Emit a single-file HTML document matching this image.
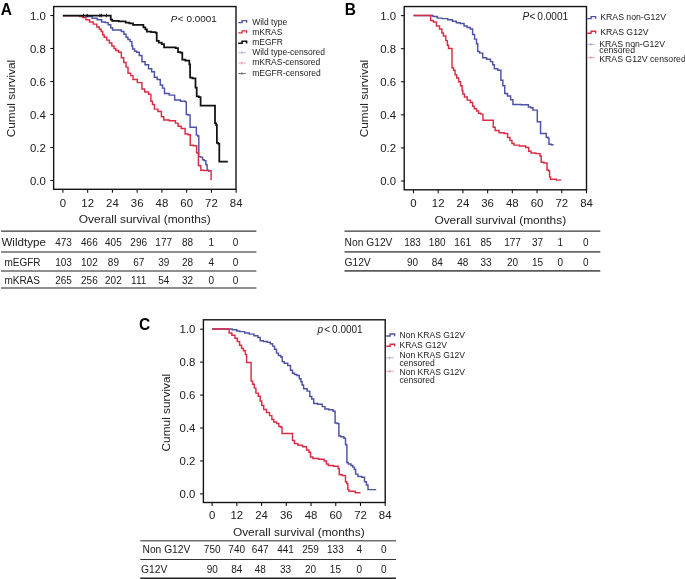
<!DOCTYPE html>
<html><head><meta charset="utf-8"><style>
html,body{margin:0;padding:0;background:#fff;width:685px;height:579px;overflow:hidden}
svg{display:block;filter:blur(0.4px)}
text{font-family:"Liberation Sans", sans-serif}
</style></head><body>
<svg width="685" height="579" viewBox="0 0 685 579">
<rect width="685" height="579" fill="#fff"/>
<rect x="53.65" y="6.55" width="182.35" height="182.75" fill="none" stroke="#141414" stroke-width="1.40"/>
<line x1="50.35" y1="15.50" x2="53.65" y2="15.50" stroke="#141414" stroke-width="1.1"/>
<text x="45.8" y="19.6" font-size="11.40" text-anchor="end" font-weight="normal" font-style="normal" fill="#202020" >1.0</text>
<line x1="50.35" y1="48.50" x2="53.65" y2="48.50" stroke="#141414" stroke-width="1.1"/>
<text x="45.8" y="52.6" font-size="11.40" text-anchor="end" font-weight="normal" font-style="normal" fill="#202020" >0.8</text>
<line x1="50.35" y1="81.50" x2="53.65" y2="81.50" stroke="#141414" stroke-width="1.1"/>
<text x="45.8" y="85.6" font-size="11.40" text-anchor="end" font-weight="normal" font-style="normal" fill="#202020" >0.6</text>
<line x1="50.35" y1="114.50" x2="53.65" y2="114.50" stroke="#141414" stroke-width="1.1"/>
<text x="45.8" y="118.6" font-size="11.40" text-anchor="end" font-weight="normal" font-style="normal" fill="#202020" >0.4</text>
<line x1="50.35" y1="147.50" x2="53.65" y2="147.50" stroke="#141414" stroke-width="1.1"/>
<text x="45.8" y="151.6" font-size="11.40" text-anchor="end" font-weight="normal" font-style="normal" fill="#202020" >0.2</text>
<line x1="50.35" y1="180.50" x2="53.65" y2="180.50" stroke="#141414" stroke-width="1.1"/>
<text x="45.8" y="184.6" font-size="11.40" text-anchor="end" font-weight="normal" font-style="normal" fill="#202020" >0.0</text>
<line x1="62.90" y1="189.30" x2="62.90" y2="192.80" stroke="#141414" stroke-width="1.1"/>
<text x="62.9" y="206.7" font-size="11.40" text-anchor="middle" font-weight="normal" font-style="normal" fill="#202020" >0</text>
<line x1="87.65" y1="189.30" x2="87.65" y2="192.80" stroke="#141414" stroke-width="1.1"/>
<text x="87.7" y="206.7" font-size="11.40" text-anchor="middle" font-weight="normal" font-style="normal" fill="#202020" >12</text>
<line x1="112.40" y1="189.30" x2="112.40" y2="192.80" stroke="#141414" stroke-width="1.1"/>
<text x="112.4" y="206.7" font-size="11.40" text-anchor="middle" font-weight="normal" font-style="normal" fill="#202020" >24</text>
<line x1="137.15" y1="189.30" x2="137.15" y2="192.80" stroke="#141414" stroke-width="1.1"/>
<text x="137.2" y="206.7" font-size="11.40" text-anchor="middle" font-weight="normal" font-style="normal" fill="#202020" >36</text>
<line x1="161.90" y1="189.30" x2="161.90" y2="192.80" stroke="#141414" stroke-width="1.1"/>
<text x="161.9" y="206.7" font-size="11.40" text-anchor="middle" font-weight="normal" font-style="normal" fill="#202020" >48</text>
<line x1="186.65" y1="189.30" x2="186.65" y2="192.80" stroke="#141414" stroke-width="1.1"/>
<text x="186.7" y="206.7" font-size="11.40" text-anchor="middle" font-weight="normal" font-style="normal" fill="#202020" >60</text>
<line x1="211.40" y1="189.30" x2="211.40" y2="192.80" stroke="#141414" stroke-width="1.1"/>
<text x="211.4" y="206.7" font-size="11.40" text-anchor="middle" font-weight="normal" font-style="normal" fill="#202020" >72</text>
<line x1="236.15" y1="189.30" x2="236.15" y2="192.80" stroke="#141414" stroke-width="1.1"/>
<text x="236.2" y="206.7" font-size="11.40" text-anchor="middle" font-weight="normal" font-style="normal" fill="#202020" >84</text>
<text x="78.8" y="223.3" font-size="11.40" text-anchor="start" font-weight="normal" font-style="normal" fill="#202020" textLength="132.0" lengthAdjust="spacingAndGlyphs">Overall survival (months)</text>
<text transform="translate(15.2,98.5) rotate(-90)" x="0" y="0" font-size="11.40" text-anchor="middle" fill="#202020" textLength="77.5" lengthAdjust="spacingAndGlyphs">Cumul survival</text>
<text transform="translate(0.80,14.50) scale(1.000,1.080)" x="0" y="0" font-size="15.50" font-weight="bold" fill="#000">A</text>
<text y="21.5" font-size="9.90" fill="#202020"><tspan x="170.7" font-style="italic">P</tspan><tspan x="177.8">&lt;</tspan><tspan x="186.6">0.0001</tspan></text>
<path d="M62.9,15.6 H83.4 H86.30 V16.5 H89.2 H92.10 V18.2 H95.0 H97.20 V19.7 H99.4 H101.60 V21.9 H103.8 H105.25 V22.6 H106.7 H108.15 V24.8 H109.6 H110.70 V27.7 H111.8 H112.55 V29.9 H113.3 H119.9 H121.35 V31.4 H122.8 H123.90 V34.3 H125.0 H126.10 V37.2 H127.2 H127.90 V39.4 H128.6 H130.05 V41.6 H131.5 H131.90 V46.0 H132.3 H132.65 V48.9 H133.0 H134.60 V51.2 H136.2 H136.75 V52.3 H137.3 H139.25 V55.4 H141.2 H141.95 V61.7 H142.7 H145.05 V64.8 H147.4 H148.55 V68.7 H149.7 H151.65 V71.8 H153.6 H154.40 V77.2 H155.2 H157.15 V79.5 H159.1 H160.25 V85.0 H161.4 H162.55 V88.1 H163.7 H164.50 V93.5 H165.3 H169.20 V95.1 H173.1 H174.65 V100.0 H176.2 H180.45 V101.3 H184.7 H185.50 V102.1 H186.3 V114.5 H188.00 V114.9 H189.7 H190.10 V127.3 H190.5 H196.0 H196.35 V135.1 H196.7 H197.75 V135.9 H198.8 V156.6 H200.55 V157.1 H202.3 H202.55 V159.7 H202.8 H204.10 V160.6 H205.4 H205.85 V164.5 H206.3 H206.70 V165.0 H207.1 V170.2 H208.65 V171.1 H210.2" fill="none" stroke="#4c52a6" stroke-width="1.45" stroke-linejoin="miter" stroke-linecap="butt"/>
<path d="M62.9,15.6 H78.2 H79.70 V16.4 H81.2 H82.70 V17.6 H84.2 H85.95 V19.7 H87.7 H89.55 V21.9 H91.4 H93.20 V24.1 H95.0 H96.85 V27.0 H98.7 H99.40 V29.2 H100.1 H101.20 V31.4 H102.3 H102.70 V35.0 H103.1 H104.20 V37.2 H105.3 H106.75 V40.1 H108.2 H109.30 V43.0 H110.4 H111.85 V46.0 H113.3 H114.00 V48.5 H114.7 H115.85 V50.5 H117.0 H118.60 V52.3 H120.2 H121.35 V57.8 H122.5 H123.70 V62.4 H124.9 H126.05 V67.1 H127.2 H128.00 V73.3 H128.8 H130.70 V75.6 H132.6 H133.00 V79.5 H133.4 H137.30 V82.6 H141.2 H141.95 V88.9 H142.7 H144.65 V92.0 H146.6 H148.55 V94.3 H150.5 H150.90 V101.3 H151.3 H152.45 V104.4 H153.6 H154.40 V109.1 H155.2 H157.90 V111.4 H160.6 H161.40 V116.8 H162.2 H163.75 V120.0 H165.3 H169.20 V120.7 H173.1 H175.40 V123.1 H177.7 H178.10 V126.2 H178.5 H181.20 V128.5 H183.9 H185.10 V133.9 H186.3 H188.15 V134.7 H190.0 H190.25 V145.3 H190.5 H193.55 V145.7 H196.6 V152.7 H197.50 V153.1 H198.4 V165.4 H199.50 V165.8 H200.6 H200.80 V170.2 H201.0 H204.05 V170.6 H207.1 H211.1 V180.3" fill="none" stroke="#dc2c44" stroke-width="1.45" stroke-linejoin="miter" stroke-linecap="butt"/>
<path d="M62.9,15.6 H110.4 H110.75 V19.7 H111.1 H112.20 V20.8 H113.3 H118.75 V21.4 H124.2 H125.70 V22.6 H127.2 H129.35 V23.3 H131.5 H133.00 V24.8 H134.5 H138.40 V24.9 H142.3 H143.40 V27.3 H144.5 H145.35 V29.4 H146.2 H146.90 V31.6 H147.6 H151.25 V32.1 H154.9 H155.65 V32.8 H156.4 H156.75 V40.8 H157.1 H158.80 V42.6 H160.5 H161.70 V44.2 H162.9 H164.05 V47.3 H165.2 H173.8 H175.70 V48.1 H177.6 H178.00 V52.0 H178.4 H180.35 V52.7 H182.3 V59.7 H185.40 V60.5 H188.5 H189.30 V64.4 H190.1 V77.6 H192.40 V78.4 H194.7 H195.50 V87.7 H196.3 H196.70 V96.3 H197.1 H198.85 V97.0 H200.6 V105.5 H214.6 H215.00 V123.4 H215.4 H216.15 V125.0 H216.9 V142.9 H218.10 V143.6 H219.3 V161.5 H227.8" fill="none" stroke="#111111" stroke-width="1.75" stroke-linejoin="miter" stroke-linecap="butt"/>
<line x1="83.5" y1="13.8" x2="83.5" y2="17.2" stroke="#111111" stroke-width="1.0"/>
<line x1="87.2" y1="13.8" x2="87.2" y2="17.2" stroke="#111111" stroke-width="1.0"/>
<line x1="100.0" y1="13.8" x2="100.0" y2="17.2" stroke="#111111" stroke-width="1.0"/>
<line x1="101.4" y1="13.8" x2="101.4" y2="17.2" stroke="#111111" stroke-width="1.0"/>
<line x1="106.5" y1="13.8" x2="106.5" y2="17.2" stroke="#111111" stroke-width="1.0"/>
<path d="M238.2,22.6 H242.1 V20.6 H246.6 V22.8" fill="none" stroke="#4c52a6" stroke-width="1.40"/>
<text x="252.2" y="24.6" font-size="8.50" text-anchor="start" font-weight="normal" font-style="normal" fill="#202020" >Wild type</text>
<path d="M238.2,32.9 H242.1 V30.9 H246.6 V33.1" fill="none" stroke="#dc2c44" stroke-width="1.40"/>
<text x="252.2" y="34.8" font-size="8.50" text-anchor="start" font-weight="normal" font-style="normal" fill="#202020" >mKRAS</text>
<path d="M238.2,43.2 H242.1 V41.2 H246.6 V43.4" fill="none" stroke="#111111" stroke-width="1.60"/>
<text x="252.2" y="45.0" font-size="8.50" text-anchor="start" font-weight="normal" font-style="normal" fill="#202020" >mEGFR</text>
<path d="M238.2,52.7 H245.8 M241.8,51.3 V54.1" fill="none" stroke="#9098c4" stroke-width="0.8" opacity="0.8"/>
<text x="252.2" y="55.2" font-size="8.50" text-anchor="start" font-weight="normal" font-style="normal" fill="#202020" >Wild type-censored</text>
<path d="M238.2,63.0 H245.8 M241.8,61.6 V64.4" fill="none" stroke="#e07088" stroke-width="0.8" opacity="0.8"/>
<text x="252.2" y="65.4" font-size="8.50" text-anchor="start" font-weight="normal" font-style="normal" fill="#202020" >mKRAS-censored</text>
<path d="M238.2,73.5 H245.8 M241.8,72.1 V74.9" fill="none" stroke="#333333" stroke-width="0.8" opacity="0.8"/>
<text x="252.2" y="76.2" font-size="8.50" text-anchor="start" font-weight="normal" font-style="normal" fill="#202020" >mEGFR-censored</text>
<line x1="1.0" y1="231.20" x2="256.4" y2="231.20" stroke="#3a3a3a" stroke-width="1.30"/>
<line x1="1.0" y1="252.00" x2="256.4" y2="252.00" stroke="#6a6a6a" stroke-width="1.60"/>
<line x1="1.0" y1="271.05" x2="256.4" y2="271.05" stroke="#6a6a6a" stroke-width="1.60"/>
<line x1="1.0" y1="287.95" x2="256.4" y2="287.95" stroke="#6a6a6a" stroke-width="1.60"/>
<text x="1.4" y="245.9" font-size="11.60" text-anchor="start" font-weight="normal" font-style="normal" fill="#202020" >Wildtype</text>
<text x="63.5" y="245.9" font-size="10.00" text-anchor="middle" font-weight="normal" font-style="normal" fill="#202020" >473</text>
<text x="89.4" y="245.9" font-size="10.00" text-anchor="middle" font-weight="normal" font-style="normal" fill="#202020" >466</text>
<text x="113.4" y="245.9" font-size="10.00" text-anchor="middle" font-weight="normal" font-style="normal" fill="#202020" >405</text>
<text x="138.7" y="245.9" font-size="10.00" text-anchor="middle" font-weight="normal" font-style="normal" fill="#202020" >296</text>
<text x="163.7" y="245.9" font-size="10.00" text-anchor="middle" font-weight="normal" font-style="normal" fill="#202020" >177</text>
<text x="187.5" y="245.9" font-size="10.00" text-anchor="middle" font-weight="normal" font-style="normal" fill="#202020" >88</text>
<text x="211.3" y="245.9" font-size="10.00" text-anchor="middle" font-weight="normal" font-style="normal" fill="#202020" >1</text>
<text x="235.6" y="245.9" font-size="10.00" text-anchor="middle" font-weight="normal" font-style="normal" fill="#202020" >0</text>
<text x="4.4" y="265.8" font-size="10.00" text-anchor="start" font-weight="normal" font-style="normal" fill="#202020" >mEGFR</text>
<text x="63.5" y="265.8" font-size="10.00" text-anchor="middle" font-weight="normal" font-style="normal" fill="#202020" >103</text>
<text x="89.4" y="265.8" font-size="10.00" text-anchor="middle" font-weight="normal" font-style="normal" fill="#202020" >102</text>
<text x="113.4" y="265.8" font-size="10.00" text-anchor="middle" font-weight="normal" font-style="normal" fill="#202020" >89</text>
<text x="138.7" y="265.8" font-size="10.00" text-anchor="middle" font-weight="normal" font-style="normal" fill="#202020" >67</text>
<text x="163.7" y="265.8" font-size="10.00" text-anchor="middle" font-weight="normal" font-style="normal" fill="#202020" >39</text>
<text x="187.5" y="265.8" font-size="10.00" text-anchor="middle" font-weight="normal" font-style="normal" fill="#202020" >28</text>
<text x="211.3" y="265.8" font-size="10.00" text-anchor="middle" font-weight="normal" font-style="normal" fill="#202020" >4</text>
<text x="235.6" y="265.8" font-size="10.00" text-anchor="middle" font-weight="normal" font-style="normal" fill="#202020" >0</text>
<text x="4.4" y="283.8" font-size="10.00" text-anchor="start" font-weight="normal" font-style="normal" fill="#202020" >mKRAS</text>
<text x="63.5" y="283.8" font-size="10.00" text-anchor="middle" font-weight="normal" font-style="normal" fill="#202020" >265</text>
<text x="89.4" y="283.8" font-size="10.00" text-anchor="middle" font-weight="normal" font-style="normal" fill="#202020" >256</text>
<text x="113.4" y="283.8" font-size="10.00" text-anchor="middle" font-weight="normal" font-style="normal" fill="#202020" >202</text>
<text x="138.7" y="283.8" font-size="10.00" text-anchor="middle" font-weight="normal" font-style="normal" fill="#202020" >111</text>
<text x="163.7" y="283.8" font-size="10.00" text-anchor="middle" font-weight="normal" font-style="normal" fill="#202020" >54</text>
<text x="187.5" y="283.8" font-size="10.00" text-anchor="middle" font-weight="normal" font-style="normal" fill="#202020" >32</text>
<text x="211.3" y="283.8" font-size="10.00" text-anchor="middle" font-weight="normal" font-style="normal" fill="#202020" >0</text>
<text x="235.6" y="283.8" font-size="10.00" text-anchor="middle" font-weight="normal" font-style="normal" fill="#202020" >0</text>
<rect x="404.20" y="6.55" width="182.30" height="183.25" fill="none" stroke="#141414" stroke-width="1.40"/>
<line x1="400.90" y1="15.60" x2="404.20" y2="15.60" stroke="#141414" stroke-width="1.1"/>
<text x="396.0" y="19.7" font-size="11.40" text-anchor="end" font-weight="normal" font-style="normal" fill="#202020" >1.0</text>
<line x1="400.90" y1="48.68" x2="404.20" y2="48.68" stroke="#141414" stroke-width="1.1"/>
<text x="396.0" y="52.8" font-size="11.40" text-anchor="end" font-weight="normal" font-style="normal" fill="#202020" >0.8</text>
<line x1="400.90" y1="81.76" x2="404.20" y2="81.76" stroke="#141414" stroke-width="1.1"/>
<text x="396.0" y="85.9" font-size="11.40" text-anchor="end" font-weight="normal" font-style="normal" fill="#202020" >0.6</text>
<line x1="400.90" y1="114.84" x2="404.20" y2="114.84" stroke="#141414" stroke-width="1.1"/>
<text x="396.0" y="118.9" font-size="11.40" text-anchor="end" font-weight="normal" font-style="normal" fill="#202020" >0.4</text>
<line x1="400.90" y1="147.92" x2="404.20" y2="147.92" stroke="#141414" stroke-width="1.1"/>
<text x="396.0" y="152.0" font-size="11.40" text-anchor="end" font-weight="normal" font-style="normal" fill="#202020" >0.2</text>
<line x1="400.90" y1="181.00" x2="404.20" y2="181.00" stroke="#141414" stroke-width="1.1"/>
<text x="396.0" y="185.1" font-size="11.40" text-anchor="end" font-weight="normal" font-style="normal" fill="#202020" >0.0</text>
<line x1="413.50" y1="189.80" x2="413.50" y2="193.30" stroke="#141414" stroke-width="1.1"/>
<text x="413.5" y="206.7" font-size="11.40" text-anchor="middle" font-weight="normal" font-style="normal" fill="#202020" >0</text>
<line x1="438.21" y1="189.80" x2="438.21" y2="193.30" stroke="#141414" stroke-width="1.1"/>
<text x="438.2" y="206.7" font-size="11.40" text-anchor="middle" font-weight="normal" font-style="normal" fill="#202020" >12</text>
<line x1="462.92" y1="189.80" x2="462.92" y2="193.30" stroke="#141414" stroke-width="1.1"/>
<text x="462.9" y="206.7" font-size="11.40" text-anchor="middle" font-weight="normal" font-style="normal" fill="#202020" >24</text>
<line x1="487.63" y1="189.80" x2="487.63" y2="193.30" stroke="#141414" stroke-width="1.1"/>
<text x="487.6" y="206.7" font-size="11.40" text-anchor="middle" font-weight="normal" font-style="normal" fill="#202020" >36</text>
<line x1="512.34" y1="189.80" x2="512.34" y2="193.30" stroke="#141414" stroke-width="1.1"/>
<text x="512.3" y="206.7" font-size="11.40" text-anchor="middle" font-weight="normal" font-style="normal" fill="#202020" >48</text>
<line x1="537.05" y1="189.80" x2="537.05" y2="193.30" stroke="#141414" stroke-width="1.1"/>
<text x="537.0" y="206.7" font-size="11.40" text-anchor="middle" font-weight="normal" font-style="normal" fill="#202020" >60</text>
<line x1="561.76" y1="189.80" x2="561.76" y2="193.30" stroke="#141414" stroke-width="1.1"/>
<text x="561.8" y="206.7" font-size="11.40" text-anchor="middle" font-weight="normal" font-style="normal" fill="#202020" >72</text>
<line x1="586.47" y1="189.80" x2="586.47" y2="193.30" stroke="#141414" stroke-width="1.1"/>
<text x="586.5" y="206.7" font-size="11.40" text-anchor="middle" font-weight="normal" font-style="normal" fill="#202020" >84</text>
<text x="434.4" y="223.6" font-size="11.40" text-anchor="start" font-weight="normal" font-style="normal" fill="#202020" textLength="131.8" lengthAdjust="spacingAndGlyphs">Overall survival (months)</text>
<text transform="translate(368.2,98.5) rotate(-90)" x="0" y="0" font-size="11.40" text-anchor="middle" fill="#202020" textLength="77.5" lengthAdjust="spacingAndGlyphs">Cumul survival</text>
<text transform="translate(344.80,14.50) scale(1.000,1.080)" x="0" y="0" font-size="15.50" font-weight="bold" fill="#000">B</text>
<text y="19.7" font-size="10.10" fill="#202020"><tspan x="522.6" font-style="italic">P</tspan><tspan x="529.5">&lt;</tspan><tspan x="537.3">0.0001</tspan></text>
<path d="M413.5,15.5 H429.9 H433.00 V16.5 H436.1 H437.25 V18.1 H438.4 H441.90 V18.6 H445.4 H447.75 V19.7 H450.1 H452.40 V21.2 H454.7 H456.30 V22.8 H457.9 H460.20 V23.5 H462.5 H464.05 V25.9 H465.6 H467.15 V27.4 H468.7 H470.25 V29.0 H471.8 H472.60 V34.4 H473.4 H474.55 V39.1 H475.7 H476.50 V43.8 H477.3 H477.70 V51.5 H478.1 H479.65 V53.1 H481.2 H482.75 V57.7 H484.3 H486.60 V59.3 H488.9 H490.50 V61.6 H492.1 H492.70 V64.8 H493.3 H494.35 V68.7 H495.4 H497.75 V70.2 H500.1 H500.90 V80.3 H501.7 H502.85 V85.8 H504.0 H504.75 V93.5 H505.5 H507.45 V95.9 H509.4 H510.60 V99.7 H511.8 H512.90 V104.5 H514.0 H521.00 V104.7 H528.0 H528.40 V107.0 H528.8 H530.70 V107.8 H532.6 H533.00 V110.1 H533.4 H537.3 V121.8 H540.4 H540.55 V133.4 H540.7 H545.9 H546.25 V137.3 H546.6 H547.80 V138.1 H549.0 V144.3 H551.30 V144.8 H553.6" fill="none" stroke="#4c52a6" stroke-width="1.45" stroke-linejoin="miter" stroke-linecap="butt"/>
<path d="M413.5,15.5 H429.9 H430.65 V20.4 H431.4 H433.35 V22.0 H435.3 H436.45 V25.9 H437.6 H439.55 V29.0 H441.5 H441.90 V32.9 H442.3 H443.45 V36.0 H444.6 H445.80 V40.6 H447.0 H447.35 V45.3 H447.7 H448.50 V48.4 H449.3 H451.6 H452.00 V67.8 H452.4 H453.55 V70.2 H454.7 H455.10 V74.8 H455.5 H456.70 V78.0 H457.9 H458.65 V81.8 H459.4 H460.55 V85.7 H461.7 H462.10 V90.4 H462.5 H462.90 V93.9 H463.3 H464.45 V97.0 H465.6 H467.20 V100.1 H468.8 H470.35 V102.4 H471.9 H472.65 V106.3 H473.4 H474.20 V108.7 H475.0 H476.55 V111.0 H478.1 H478.50 V113.3 H478.9 H480.80 V114.1 H482.7 H482.95 V120.3 H483.2 H492.9 H493.25 V127.3 H493.6 H495.15 V130.4 H496.7 H499.05 V132.7 H501.4 H504.10 V133.5 H506.8 H507.60 V137.4 H508.4 H509.95 V140.5 H511.5 H511.95 V143.5 H512.4 H513.95 V145.1 H515.5 H519.40 V145.9 H523.3 H525.65 V147.4 H528.0 H528.75 V151.3 H529.5 H531.05 V152.9 H532.6 H535.75 V153.6 H538.9 H540.05 V156.0 H541.2 V162.2 H543.90 V163.0 H546.6 H547.00 V170.0 H547.4 H548.40 V170.7 H549.4 H549.55 V176.9 H549.7 H550.50 V179.3 H551.3 H556.35 V180.1 H561.4" fill="none" stroke="#dc2c44" stroke-width="1.45" stroke-linejoin="miter" stroke-linecap="butt"/>
<path d="M587.2,18.6 H591.1 V16.6 H595.6 V18.8" fill="none" stroke="#4c52a6" stroke-width="1.40"/>
<text x="600.3" y="20.1" font-size="8.70" text-anchor="start" font-weight="normal" font-style="normal" fill="#202020" >KRAS non-G12V</text>
<path d="M587.2,33.2 H591.1 V31.2 H595.6 V33.4" fill="none" stroke="#dc2c44" stroke-width="1.40"/>
<text x="600.3" y="34.8" font-size="8.70" text-anchor="start" font-weight="normal" font-style="normal" fill="#202020" >KRAS G12V</text>
<path d="M587.2,44.4 H594.8 M590.8,43.0 V45.8" fill="none" stroke="#8890c0" stroke-width="0.8" opacity="0.8"/>
<text x="599.3" y="46.6" font-size="8.70" text-anchor="start" font-weight="normal" font-style="normal" fill="#202020" >KRAS non-G12V</text>
<text x="599.3" y="53.1" font-size="8.70" text-anchor="start" font-weight="normal" font-style="normal" fill="#202020" >censored</text>
<path d="M587.2,57.6 H594.8 M590.8,56.2 V59.0" fill="none" stroke="#e07080" stroke-width="0.8" opacity="0.8"/>
<text x="599.3" y="61.5" font-size="8.70" text-anchor="start" font-weight="normal" font-style="normal" fill="#202020" >KRAS G12V censored</text>
<line x1="344.5" y1="231.10" x2="600.3" y2="231.10" stroke="#3a3a3a" stroke-width="1.30"/>
<line x1="344.5" y1="251.90" x2="600.3" y2="251.90" stroke="#6a6a6a" stroke-width="1.60"/>
<line x1="344.5" y1="270.80" x2="600.3" y2="270.80" stroke="#5a5a5a" stroke-width="1.80"/>
<text x="344.6" y="246.2" font-size="10.25" text-anchor="start" font-weight="normal" font-style="normal" fill="#202020" >Non G12V</text>
<text x="412.6" y="246.2" font-size="10.00" text-anchor="middle" font-weight="normal" font-style="normal" fill="#202020" >183</text>
<text x="437.2" y="246.2" font-size="10.00" text-anchor="middle" font-weight="normal" font-style="normal" fill="#202020" >180</text>
<text x="462.7" y="246.2" font-size="10.00" text-anchor="middle" font-weight="normal" font-style="normal" fill="#202020" >161</text>
<text x="486.0" y="246.2" font-size="10.00" text-anchor="middle" font-weight="normal" font-style="normal" fill="#202020" >85</text>
<text x="512.5" y="246.2" font-size="10.00" text-anchor="middle" font-weight="normal" font-style="normal" fill="#202020" >177</text>
<text x="537.5" y="246.2" font-size="10.00" text-anchor="middle" font-weight="normal" font-style="normal" fill="#202020" >37</text>
<text x="560.2" y="246.2" font-size="10.00" text-anchor="middle" font-weight="normal" font-style="normal" fill="#202020" >1</text>
<text x="585.7" y="246.2" font-size="10.00" text-anchor="middle" font-weight="normal" font-style="normal" fill="#202020" >0</text>
<text x="344.4" y="265.6" font-size="10.30" text-anchor="start" font-weight="normal" font-style="normal" fill="#202020" >G12V</text>
<text x="412.6" y="265.6" font-size="10.00" text-anchor="middle" font-weight="normal" font-style="normal" fill="#202020" >90</text>
<text x="437.2" y="265.6" font-size="10.00" text-anchor="middle" font-weight="normal" font-style="normal" fill="#202020" >84</text>
<text x="462.7" y="265.6" font-size="10.00" text-anchor="middle" font-weight="normal" font-style="normal" fill="#202020" >48</text>
<text x="486.0" y="265.6" font-size="10.00" text-anchor="middle" font-weight="normal" font-style="normal" fill="#202020" >33</text>
<text x="512.5" y="265.6" font-size="10.00" text-anchor="middle" font-weight="normal" font-style="normal" fill="#202020" >20</text>
<text x="537.5" y="265.6" font-size="10.00" text-anchor="middle" font-weight="normal" font-style="normal" fill="#202020" >15</text>
<text x="560.2" y="265.6" font-size="10.00" text-anchor="middle" font-weight="normal" font-style="normal" fill="#202020" >0</text>
<text x="585.7" y="265.6" font-size="10.00" text-anchor="middle" font-weight="normal" font-style="normal" fill="#202020" >0</text>
<rect x="203.40" y="319.80" width="181.80" height="182.70" fill="none" stroke="#141414" stroke-width="1.40"/>
<line x1="200.10" y1="329.20" x2="203.40" y2="329.20" stroke="#141414" stroke-width="1.1"/>
<text x="195.4" y="333.3" font-size="11.40" text-anchor="end" font-weight="normal" font-style="normal" fill="#202020" >1.0</text>
<line x1="200.10" y1="362.14" x2="203.40" y2="362.14" stroke="#141414" stroke-width="1.1"/>
<text x="195.4" y="366.2" font-size="11.40" text-anchor="end" font-weight="normal" font-style="normal" fill="#202020" >0.8</text>
<line x1="200.10" y1="395.08" x2="203.40" y2="395.08" stroke="#141414" stroke-width="1.1"/>
<text x="195.4" y="399.2" font-size="11.40" text-anchor="end" font-weight="normal" font-style="normal" fill="#202020" >0.6</text>
<line x1="200.10" y1="428.02" x2="203.40" y2="428.02" stroke="#141414" stroke-width="1.1"/>
<text x="195.4" y="432.1" font-size="11.40" text-anchor="end" font-weight="normal" font-style="normal" fill="#202020" >0.4</text>
<line x1="200.10" y1="460.96" x2="203.40" y2="460.96" stroke="#141414" stroke-width="1.1"/>
<text x="195.4" y="465.1" font-size="11.40" text-anchor="end" font-weight="normal" font-style="normal" fill="#202020" >0.2</text>
<line x1="200.10" y1="493.90" x2="203.40" y2="493.90" stroke="#141414" stroke-width="1.1"/>
<text x="195.4" y="498.0" font-size="11.40" text-anchor="end" font-weight="normal" font-style="normal" fill="#202020" >0.0</text>
<line x1="212.10" y1="502.50" x2="212.10" y2="506.00" stroke="#141414" stroke-width="1.1"/>
<text x="212.1" y="519.1" font-size="11.40" text-anchor="middle" font-weight="normal" font-style="normal" fill="#202020" >0</text>
<line x1="236.83" y1="502.50" x2="236.83" y2="506.00" stroke="#141414" stroke-width="1.1"/>
<text x="236.8" y="519.1" font-size="11.40" text-anchor="middle" font-weight="normal" font-style="normal" fill="#202020" >12</text>
<line x1="261.56" y1="502.50" x2="261.56" y2="506.00" stroke="#141414" stroke-width="1.1"/>
<text x="261.6" y="519.1" font-size="11.40" text-anchor="middle" font-weight="normal" font-style="normal" fill="#202020" >24</text>
<line x1="286.29" y1="502.50" x2="286.29" y2="506.00" stroke="#141414" stroke-width="1.1"/>
<text x="286.3" y="519.1" font-size="11.40" text-anchor="middle" font-weight="normal" font-style="normal" fill="#202020" >36</text>
<line x1="311.02" y1="502.50" x2="311.02" y2="506.00" stroke="#141414" stroke-width="1.1"/>
<text x="311.0" y="519.1" font-size="11.40" text-anchor="middle" font-weight="normal" font-style="normal" fill="#202020" >48</text>
<line x1="335.75" y1="502.50" x2="335.75" y2="506.00" stroke="#141414" stroke-width="1.1"/>
<text x="335.8" y="519.1" font-size="11.40" text-anchor="middle" font-weight="normal" font-style="normal" fill="#202020" >60</text>
<line x1="360.48" y1="502.50" x2="360.48" y2="506.00" stroke="#141414" stroke-width="1.1"/>
<text x="360.5" y="519.1" font-size="11.40" text-anchor="middle" font-weight="normal" font-style="normal" fill="#202020" >72</text>
<line x1="385.21" y1="502.50" x2="385.21" y2="506.00" stroke="#141414" stroke-width="1.1"/>
<text x="385.2" y="519.1" font-size="11.40" text-anchor="middle" font-weight="normal" font-style="normal" fill="#202020" >84</text>
<text x="232.9" y="536.3" font-size="11.40" text-anchor="start" font-weight="normal" font-style="normal" fill="#202020" textLength="131.8" lengthAdjust="spacingAndGlyphs">Overall survival (months)</text>
<text transform="translate(170.3,412.6) rotate(-90)" x="0" y="0" font-size="11.40" text-anchor="middle" fill="#202020" textLength="77.7" lengthAdjust="spacingAndGlyphs">Cumul survival</text>
<text transform="translate(139.00,330.20) scale(1.000,1.080)" x="0" y="0" font-size="15.50" font-weight="bold" fill="#000">C</text>
<text y="333.0" font-size="10.00" fill="#202020"><tspan x="317.5" font-style="italic">p</tspan><tspan x="324.2">&lt;</tspan><tspan x="332.1">0.0001</tspan></text>
<path d="M212.0,329.0 H228.3 H232.20 V329.8 H236.1 H236.85 V331.0 H237.6 H239.95 V331.6 H242.3 H244.65 V332.9 H247.0 H249.30 V334.1 H251.6 H253.95 V335.7 H256.3 H257.85 V337.5 H259.4 H260.20 V340.7 H261.0 H263.30 V341.4 H265.6 H267.15 V342.2 H268.7 H270.25 V343.8 H271.8 H272.60 V346.1 H273.4 H274.55 V349.2 H275.7 H276.50 V353.1 H277.3 H278.45 V355.4 H279.6 H280.75 V357.0 H281.9 H282.30 V361.6 H282.7 H284.25 V363.2 H285.8 H287.75 V365.5 H289.7 H290.50 V370.2 H291.3 H292.45 V373.3 H293.6 H294.50 V374.5 H295.4 H296.95 V375.5 H298.5 H299.30 V378.7 H300.1 H300.90 V381.8 H301.7 H302.05 V384.9 H302.4 H303.60 V388.8 H304.8 H307.10 V391.1 H309.4 H309.80 V396.5 H310.2 H311.75 V398.9 H313.3 H313.70 V403.5 H314.1 H317.60 V404.3 H321.1 H322.25 V406.6 H323.4 H324.95 V409.0 H326.5 H328.85 V409.7 H331.2 H333.15 V411.3 H335.1 V423.0 H337.00 V423.5 H338.9 V436.0 H340.80 V436.8 H342.7 H343.90 V438.3 H345.1 H345.50 V444.5 H345.9 H346.40 V445.3 H346.9 V462.4 H348.30 V464.0 H349.7 H350.90 V465.5 H352.1 H352.85 V467.1 H353.6 H354.40 V469.4 H355.2 H355.60 V474.1 H356.0 H357.90 V476.4 H359.8 H361.75 V477.2 H363.7 H364.50 V481.8 H365.3 H366.45 V485.0 H367.6 H368.00 V489.6 H368.4 H376.2" fill="none" stroke="#4c52a6" stroke-width="1.45" stroke-linejoin="miter" stroke-linecap="butt"/>
<path d="M212.0,329.0 H228.3 H229.10 V332.9 H229.9 H231.85 V335.2 H233.8 H234.95 V338.3 H236.1 H237.25 V341.4 H238.4 H239.60 V345.3 H240.8 H241.55 V348.4 H242.3 H243.45 V350.8 H244.6 H245.40 V354.6 H246.2 H246.60 V362.4 H247.0 H250.9 H251.10 V381.1 H251.3 H252.65 V384.2 H254.0 H254.35 V388.1 H254.7 H255.90 V393.1 H257.1 H258.25 V396.2 H259.4 H260.20 V400.9 H261.0 H261.75 V405.5 H262.5 H263.70 V409.4 H264.9 H266.45 V412.5 H268.0 H269.55 V415.6 H271.1 H271.85 V419.5 H272.6 H273.80 V421.9 H275.0 H276.55 V423.4 H278.1 H278.85 V426.5 H279.6 H280.80 V427.3 H282.0 V433.5 H292.1 H292.50 V440.5 H292.9 H294.45 V443.6 H296.0 H297.90 V445.2 H299.8 H302.55 V446.7 H305.3 H306.55 V450.0 H307.8 H308.95 V452.3 H310.1 H310.50 V457.0 H310.9 H312.85 V458.5 H314.8 H318.65 V459.3 H322.5 H324.05 V460.9 H325.6 H326.40 V464.0 H327.2 H328.35 V465.5 H329.5 H333.40 V466.3 H337.3 H338.10 V468.6 H338.9 H339.25 V474.8 H339.6 H342.35 V475.6 H345.1 H345.50 V481.8 H345.9 H346.65 V483.4 H347.4 H347.80 V489.6 H348.2 H348.95 V491.2 H349.7 H355.15 V492.7 H360.6" fill="none" stroke="#dc2c44" stroke-width="1.45" stroke-linejoin="miter" stroke-linecap="butt"/>
<path d="M386.2,336.0 H390.1 V334.0 H394.6 V336.2" fill="none" stroke="#4c52a6" stroke-width="1.40"/>
<text x="399.5" y="337.6" font-size="8.55" text-anchor="start" font-weight="normal" font-style="normal" fill="#202020" >Non KRAS G12V</text>
<path d="M386.2,346.2 H390.1 V344.2 H394.6 V346.4" fill="none" stroke="#dc2c44" stroke-width="1.40"/>
<text x="399.5" y="347.8" font-size="8.55" text-anchor="start" font-weight="normal" font-style="normal" fill="#202020" >KRAS G12V</text>
<path d="M386.2,357.8 H393.8 M389.8,356.4 V359.2" fill="none" stroke="#8890c0" stroke-width="0.8" opacity="0.8"/>
<text x="399.5" y="358.4" font-size="8.55" text-anchor="start" font-weight="normal" font-style="normal" fill="#202020" >Non KRAS G12V</text>
<text x="399.5" y="366.4" font-size="8.55" text-anchor="start" font-weight="normal" font-style="normal" fill="#202020" >censored</text>
<path d="M386.2,371.3 H393.8 M389.8,369.9 V372.7" fill="none" stroke="#e07080" stroke-width="0.8" opacity="0.8"/>
<text x="399.5" y="374.9" font-size="8.55" text-anchor="start" font-weight="normal" font-style="normal" fill="#202020" >Non KRAS G12V</text>
<text x="399.5" y="382.9" font-size="8.55" text-anchor="start" font-weight="normal" font-style="normal" fill="#202020" >censored</text>
<line x1="140.2" y1="540.70" x2="396.0" y2="540.70" stroke="#707070" stroke-width="1.60"/>
<line x1="140.2" y1="559.50" x2="396.0" y2="559.50" stroke="#333333" stroke-width="1.20"/>
<line x1="140.2" y1="578.40" x2="396.0" y2="578.40" stroke="#222222" stroke-width="1.80"/>
<text x="142.5" y="553.2" font-size="10.25" text-anchor="start" font-weight="normal" font-style="normal" fill="#202020" >Non G12V</text>
<text x="212.2" y="553.2" font-size="10.00" text-anchor="middle" font-weight="normal" font-style="normal" fill="#202020" >750</text>
<text x="236.7" y="553.2" font-size="10.00" text-anchor="middle" font-weight="normal" font-style="normal" fill="#202020" >740</text>
<text x="260.2" y="553.2" font-size="10.00" text-anchor="middle" font-weight="normal" font-style="normal" fill="#202020" >647</text>
<text x="285.5" y="553.2" font-size="10.00" text-anchor="middle" font-weight="normal" font-style="normal" fill="#202020" >441</text>
<text x="310.5" y="553.2" font-size="10.00" text-anchor="middle" font-weight="normal" font-style="normal" fill="#202020" >259</text>
<text x="335.4" y="553.2" font-size="10.00" text-anchor="middle" font-weight="normal" font-style="normal" fill="#202020" >133</text>
<text x="359.3" y="553.2" font-size="10.00" text-anchor="middle" font-weight="normal" font-style="normal" fill="#202020" >4</text>
<text x="383.7" y="553.2" font-size="10.00" text-anchor="middle" font-weight="normal" font-style="normal" fill="#202020" >0</text>
<text x="141.0" y="572.5" font-size="10.30" text-anchor="start" font-weight="normal" font-style="normal" fill="#202020" >G12V</text>
<text x="212.2" y="572.5" font-size="10.00" text-anchor="middle" font-weight="normal" font-style="normal" fill="#202020" >90</text>
<text x="236.7" y="572.5" font-size="10.00" text-anchor="middle" font-weight="normal" font-style="normal" fill="#202020" >84</text>
<text x="260.2" y="572.5" font-size="10.00" text-anchor="middle" font-weight="normal" font-style="normal" fill="#202020" >48</text>
<text x="285.5" y="572.5" font-size="10.00" text-anchor="middle" font-weight="normal" font-style="normal" fill="#202020" >33</text>
<text x="310.5" y="572.5" font-size="10.00" text-anchor="middle" font-weight="normal" font-style="normal" fill="#202020" >20</text>
<text x="335.4" y="572.5" font-size="10.00" text-anchor="middle" font-weight="normal" font-style="normal" fill="#202020" >15</text>
<text x="359.3" y="572.5" font-size="10.00" text-anchor="middle" font-weight="normal" font-style="normal" fill="#202020" >0</text>
<text x="383.7" y="572.5" font-size="10.00" text-anchor="middle" font-weight="normal" font-style="normal" fill="#202020" >0</text>
</svg>
</body></html>
